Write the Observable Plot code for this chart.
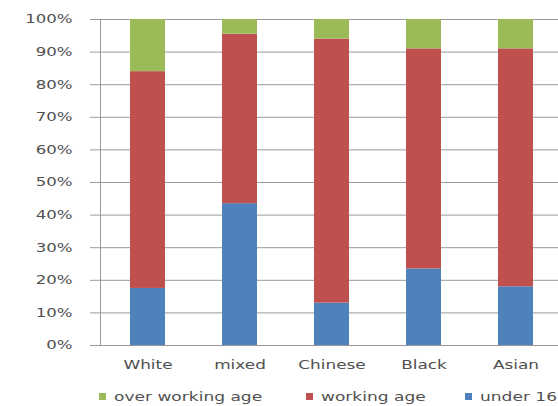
<!DOCTYPE html>
<html>
<head>
<meta charset="utf-8">
<script src="https://cdn.jsdelivr.net/npm/d3@7"></script>
<script src="https://cdn.jsdelivr.net/npm/@observablehq/plot@0.6"></script>
<style>
  html, body { margin: 0; padding: 0; background: #fff; }
  #wrap { position: relative; width: 558px; height: 406px; overflow: hidden; font-family: "DejaVu Sans", sans-serif; }
  #legend { position: absolute; left: 0; top: 388px; width: 600px; height: 18px; font-size: 12px; color: #505050; }
  .item { position: absolute; top: 0; line-height: 18px; white-space: nowrap; }
  .sw { display: inline-block; width: 7px; height: 7px; margin-right: 8px; vertical-align: middle; position: relative; top: -1px; }
  .txt { display: inline-block; transform: scaleX(1.42); transform-origin: left center; }
</style>
</head>
<body>
<div id="wrap">
  <div id="chart"></div>
  <div id="legend"></div>
</div>
<script>
const groups = ["White", "mixed", "Chinese", "Black", "Asian"];
const seriesNames = ["under 16", "working age", "over working age"];
const under16 = [17.5, 43.5, 13, 23.5, 18];
const workingAge = [66.5, 52, 81, 67.5, 73];
const overWorkingAge = [16, 4.5, 6, 9, 9];
const colors = ["#4F81BD", "#C0504D", "#9BBB59"];
const yTicks = [0, 10, 20, 30, 40, 50, 60, 70, 80, 90, 100];

const seriesValues = [under16, workingAge, overWorkingAge];
const data = [];
seriesNames.forEach((s, si) => {
  groups.forEach((g, gi) => data.push({group: g, series: s, value: seriesValues[si][gi]}));
});

const chart = Plot.plot({
  width: 558,
  height: 388,
  marginTop: 19,
  marginBottom: 43,
  marginLeft: 100,
  marginRight: 0,
  style: {fontFamily: "'DejaVu Sans', sans-serif", fontSize: "12px", color: "#505050", background: "#fff"},
  x: {domain: groups, range: [100, 562], paddingInner: 0.62, paddingOuter: 0.31, label: null},
  y: {domain: [0, 100], label: null},
  color: {domain: seriesNames, range: colors},
  marks: [
    Plot.ruleY(yTicks, {stroke: "#999", strokeWidth: 1, strokeOpacity: 1}),
    Plot.barY(data, {x: "group", y: "value", fill: "series", order: seriesNames}),
    Plot.frame({anchor: "left", stroke: "#999", strokeOpacity: 1}),
    Plot.axisY({ticks: yTicks, tickFormat: d => d + "%", tickSize: 10, tickPadding: 18, stroke: "#999", strokeOpacity: 1, fill: "#505050", fontSize: 12}),
    Plot.axisX({tickSize: 0, tickPadding: 14, fill: "#505050", fontSize: 13})
  ]
});
document.getElementById("chart").appendChild(chart);

function stretch(selector, k) {
  chart.querySelectorAll(selector + " text").forEach(t => {
    const g = document.createElementNS("http://www.w3.org/2000/svg", "g");
    const tr = t.getAttribute("transform");
    if (tr) g.setAttribute("transform", tr);
    t.parentNode.insertBefore(g, t);
    g.appendChild(t);
    const xa = t.getAttribute("x");
    if (xa != null && !isNaN(+xa)) t.setAttribute("x", +xa / k);
    t.setAttribute("transform", `scale(${k},1)`);
  });
}
stretch('g[aria-label="y-axis tick label"]', 1.38);
stretch('g[aria-label="x-axis tick label"]', 1.3);

const legendPos = [{s: "over working age", c: colors[2], x: 99}, {s: "working age", c: colors[1], x: 306}, {s: "under 16", c: colors[0], x: 465}];
const leg = document.getElementById("legend");
legendPos.forEach(d => {
  const it = document.createElement("div");
  it.className = "item";
  it.style.left = d.x + "px";
  it.innerHTML = `<span class="sw" style="background:${d.c}"></span><span class="txt">${d.s}</span>`;
  leg.appendChild(it);
});
</script>
</body>
</html>
